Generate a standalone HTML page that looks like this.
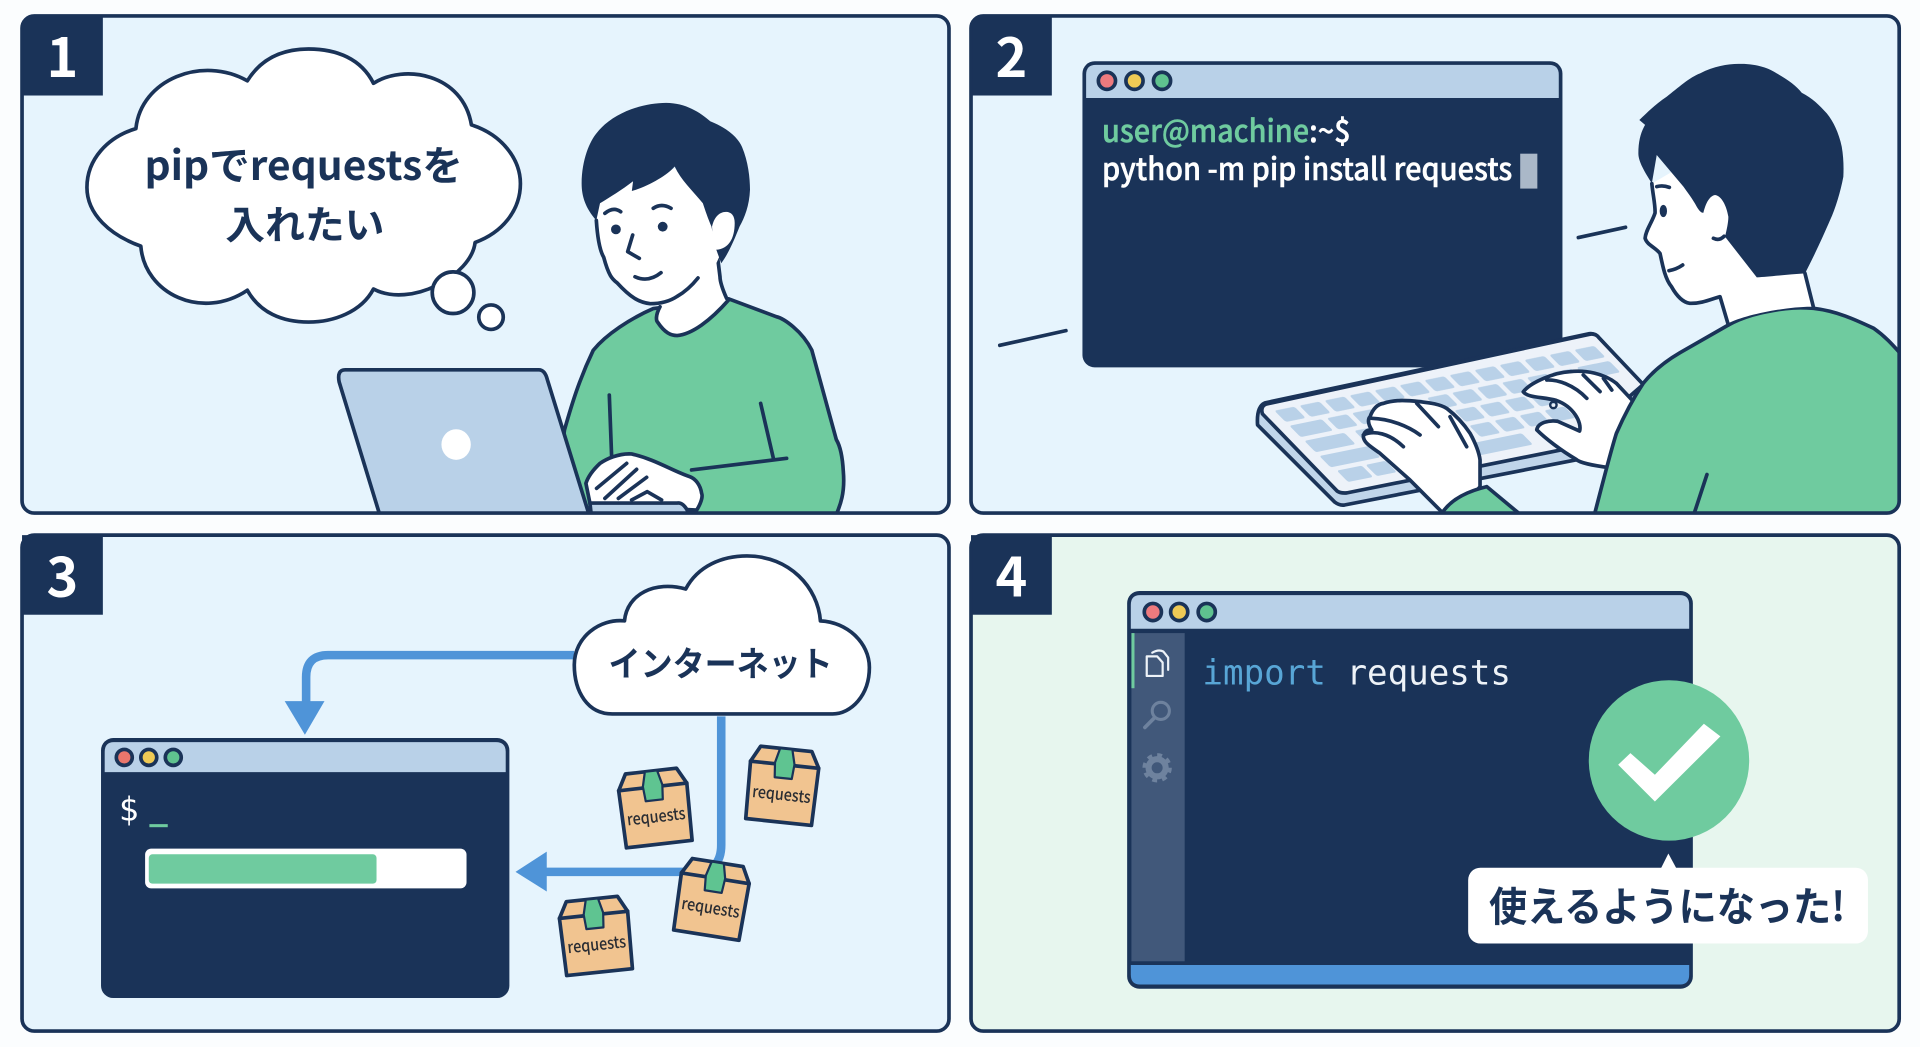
<!DOCTYPE html>
<html lang="ja"><head><meta charset="utf-8"><title>pip install requests</title>
<style>
html,body{margin:0;padding:0;background:#fbfdfe;width:1920px;height:1047px;overflow:hidden}
svg{display:block}
text{font-family:"Noto Sans CJK JP","Liberation Sans",sans-serif}
.m{font-family:"DejaVu Sans Mono","Liberation Mono",monospace}
.n{fill:#fff;font-size:44px;font-weight:700;text-anchor:middle}
.l{fill:none;stroke:#1a3358;stroke-width:3;stroke-linecap:round;stroke-linejoin:round}
.s{stroke:#1a3358;stroke-width:3;stroke-linejoin:round}
.t{fill:#1a3358;font-weight:700}
</style></head><body>
<svg width="1920" height="1047" viewBox="0 0 1568 855" preserveAspectRatio="none" xmlns="http://www.w3.org/2000/svg">
<defs>
<clipPath id="c1"><rect x="18" y="13" width="757" height="406" rx="10"/></clipPath>
<clipPath id="c2"><rect x="793" y="13" width="758" height="406" rx="10"/></clipPath>
<pattern id="keys" width="20" height="12" patternUnits="userSpaceOnUse"><rect x="2" y="1.500" width="16" height="9" rx="1.500" fill="#b9d1e8"/></pattern>
<pattern id="keysB" x="10" width="20" height="12" patternUnits="userSpaceOnUse"><rect x="2" y="1.500" width="16" height="9" rx="1.500" fill="#b9d1e8"/></pattern>
<g id="box">
<path d="M-21-30L21-30L28-17L27 30H-27L-28-17Z" fill="#f1c490" class="s"/>
<path d="M-28-17H-8M8-17H28" class="l"/>
<path d="M-5-30H5L8-18L7-6H-7L-8-18Z" fill="#5fc491" stroke="#1a3358" stroke-width="1.800" stroke-linejoin="round"/>
<text x="0" y="12" text-anchor="middle" font-size="13.500" font-weight="500" fill="#2a2d33" textLength="48" lengthAdjust="spacingAndGlyphs">requests</text>
</g>
</defs>

<!-- Panel 1 -->
<rect x="18" y="13" width="757" height="406" rx="10" fill="#e6f4fd"/>
<g clip-path="url(#c1)">
<rect x="18" y="13" width="66" height="65" fill="#1a3358"/>
<text x="51" y="63" class="n">1</text>
<path d="M202 66C215 45 235 40 252 40C275 40 295 48 305 68C330 52 378 60 385 102C410 110 425 130 425 150C425 172 410 190 388 198C385 225 335 252 305 236C295 255 272 263 252 263C230 263 212 255 202 237C165 262 118 240 115 201C90 192 71 175 71 153C71 130 88 112 111 105C115 65 165 45 202 66Z" fill="#fff" class="s"/>
<circle cx="370" cy="239" r="17" fill="#fff" class="s"/>
<circle cx="401" cy="259" r="10" fill="#fff" class="s"/>
<text x="118" y="147" font-size="33" class="t" textLength="260" lengthAdjust="spacingAndGlyphs">pipでrequestsを</text>
<text x="184" y="195" font-size="32" class="t" textLength="130" lengthAdjust="spacingAndGlyphs">入れたい</text>
<!-- person 1 -->
<path d="M533.500 252C515 260 495 273 484.500 286C473 310 467 330 461 351L450 430H678C688 412 690 400 688.700 385C688 372 686 364 683 359L663 286C655 270 640 260 634 258.600L595 244Z" fill="#6fcb9f" class="s"/>
<path d="M539 245V250.500C535 258 536 262 537 263C543 272 548 274 553 274C565 273 580 262 595 245C590 236 588 230 588 226L585 204L530 230Z" fill="#fff"/>
<path d="M539 250.500C535 258 536 262 537 263C543 272 548 274 553 274C565 273 580 262 595 245M593.400 243.700C590 236 588 230 588 226L585.300 204" class="l"/>
<path d="M487 180C488 195 490 205 493 210C497 225 500 228 504 231C515 243 522 247 531 248C540 248 547 246 553 242L585 215L600 182L590 130L490 150Z" fill="#fff"/>
<path d="M487 180C488 195 490 205 493 210C497 225 500 228 504 231C515 243 522 247 531 248C540 248 547 246 553 242C560 238 566 232 570 227" class="l"/>
<path d="M487 180C478 170 475 160 475 150C475 130 482 115 487 109C500 92 525 84 544 84C560 84 572 92 580 99C595 105 603 113 606 120C611 132 612.500 145 612.500 155C612 168 608 178 604 185C600 195 595 207 589 215L585 204L581 185C578 178 576 172 574 166C565 155 556 147 551 136C545 143 530 152 516 156L517 148C508 155 498 161 490 166Z" fill="#1a3358"/>
<path d="M585 204C595 203 600 195 600 182C600 176 597 173 593 173C587 173 583 178 581.500 185C582 195 583 200 585 204Z" fill="#fff"/>
<path d="M494 174.200Q500.900 168.500 506.900 172.900M533.500 170.100Q540.300 165.500 548 170.100" class="l" stroke-width="2.500"/>
<circle cx="503" cy="187.300" r="4" fill="#1a3358"/><circle cx="541.200" cy="185.100" r="4" fill="#1a3358"/>
<path d="M516.700 191.900L512.600 205.500L522.100 211M518.600 226Q529.500 231 539.800 222.700" class="l" stroke-width="2.500"/>
<path d="M497.600 322.600L499.500 372.900M621.200 329.400L631.600 374.300M642.400 374.300L564.800 383.800" class="l"/>
<path d="M282 302H440Q445 302 447 310L481 420H310L277 312Q275 302 282 302Z" fill="#b9d1e8" class="s"/>
<ellipse cx="372.500" cy="363" rx="12" ry="12.500" fill="#fff"/>
<path d="M478.500 394.700L482 412L569 416.500C573 410 574 405 573 402.900C572 396 568 391 563.500 389.300C550 385 535 375 515.800 370.700C505 370 495 375 490 378.400C484 384 480 390 478.500 394.700Z" fill="#fff" class="s"/>
<path d="M511.800 378.400L487.200 398.800M519.900 383.300L494 407M528.100 389.800L505 407M515.800 408.300L528.600 401.500L540.300 408.300" class="l" stroke-width="2.500"/>
<path d="M481.800 410.800H553Q558 410 562 418V422H483Z" fill="#b9d1e8" class="s"/>
</g>
<rect x="18" y="13" width="757" height="406" rx="10" class="l"/>

<!-- Panel 2 -->
<rect x="793" y="13" width="758" height="406" rx="10" fill="#e6f4fd"/>
<g clip-path="url(#c2)">
<rect x="793" y="13" width="66" height="65" fill="#1a3358"/>
<text x="826" y="63" class="n">2</text>
<rect x="884" y="50" width="392" height="250" rx="10" fill="#1a3358"/>
<path d="M887 80V61Q887 53 895 53H1265Q1273 53 1273 61V80Z" fill="#b9d1e8"/>
<circle cx="904" cy="66" r="7" fill="#ee7a7e" class="s"/><circle cx="926.500" cy="66" r="7" fill="#efca55" class="s"/><circle cx="949" cy="66" r="7" fill="#5fc28f" class="s"/>
<text x="900" y="116" font-size="25" font-weight="500" textLength="203" lengthAdjust="spacingAndGlyphs" stroke-width=".4"><tspan fill="#6fcb9f" stroke="#6fcb9f">user@machine</tspan><tspan fill="#fff" stroke="#fff">:~$</tspan></text>
<text x="900" y="147" font-size="25" font-weight="500" fill="#fff" stroke="#fff" stroke-width=".4" textLength="335" lengthAdjust="spacingAndGlyphs">python -m pip install requests</text>
<rect x="1241.500" y="125.500" width="14" height="28.500" fill="#aab8c8"/>
<path d="M1289 194L1327.500 185.600M816.500 282L870.500 270" class="l"/>
<!-- keyboard -->
<path d="M1033 329L1298 272.500Q1303 272 1306 276L1345 318L1290 375L1098 412.400Q1094 413 1090 410L1027 347Q1026 332 1033 329Z" fill="#c0d5ea" class="s"/>
<path d="M1034 330L1298 273Q1303 272 1306 276L1342 314L1282 366L1100 402.500Q1095 403 1092 401L1031 338Q1029 332 1034 330Z" fill="#edf2f9" class="s" stroke-width="2"/>
<g transform="matrix(1.02 -.207 1.02 1.03 1037.200 334.200)">
<rect width="260" height="12" fill="url(#keys)"/>
<rect x="2" y="13.500" width="26" height="9" rx="1.500" fill="#b9d1e8"/>
<rect x="30" y="12" width="220" height="12" fill="url(#keysB)"/>
<rect x="232" y="13.500" width="26" height="9" rx="1.500" fill="#b9d1e8"/>
<rect x="2" y="25.500" width="32" height="9" rx="1.500" fill="#b9d1e8"/>
<rect x="40" y="24" width="200" height="12" fill="url(#keys)"/>
<rect x="2" y="37.500" width="40" height="9" rx="1.500" fill="#b9d1e8"/>
<rect x="60" y="36" width="160" height="12" fill="url(#keys)"/>
<rect x="4" y="49.500" width="20" height="9" rx="1.500" fill="#b9d1e8"/>
<rect x="27" y="49.500" width="16" height="9" rx="1.500" fill="#b9d1e8"/>
<rect x="96" y="49.500" width="56" height="9" rx="1.500" fill="#b9d1e8"/>
</g>
<!-- left hand -->
<path d="M1177.400 418L1151.500 392L1127 370.200C1120 365 1114 362 1113.400 356.600C1114 352 1117 351 1120.300 351.100C1117 346 1117 342 1118.900 340.300C1121 334 1125 330 1129.800 329.400C1140 326 1150 327 1159.700 328C1168 329 1176 330 1181.500 333.500C1190 340 1196 347 1200.600 353.900C1205 362 1208 370 1208.700 375.600V397.400L1190 420Z" fill="#fff" class="s"/>
<path d="M1120.300 341.600C1135 342 1150 348 1159.700 355.200M1113.400 355.200C1122 351 1135 354 1146.100 364.800M1157 329.400L1174.700 348.400M1184.200 340.300L1197.800 364.800" class="l" stroke-width="2.500"/>
<path d="M1177 420C1183 410 1195 402 1214.200 397.400L1241.400 420Z" fill="#6fcb9f" class="s"/>
<!-- right hand -->
<path d="M1244 320C1250 312 1270 304 1282 303.500C1295 302 1310 305 1320 313L1335 329L1315 382C1300 380 1290 378 1287 375C1275 368 1262 358 1255 351C1256 345 1265 343 1272 344L1290 352C1292 345 1285 332 1271 327C1260 324 1248 325 1244 320Z" fill="#fff" class="s"/>
<path d="M1263.200 310.300C1272 310 1285 314 1295.900 325.300M1293 306.200L1306.700 319.800M1309.500 309L1316.300 318.500" class="l" stroke-width="2.500"/>
<circle cx="1268.600" cy="330.700" r="2.600" fill="none" stroke="#1a3358" stroke-width="2"/>
<!-- person 2 -->
<path d="M1301 425L1302.700 418C1310 390 1315 370 1320 354C1327 338 1334 325 1342 313C1350 303 1360 295 1372 288L1411.500 265.400C1425 258 1440 255 1443 254.500C1460 251 1470 251 1481 251.800C1500 254 1515 261 1530 268C1540 275 1546 282 1555 292V425Z" fill="#6fcb9f" class="s"/>
<path d="M1394 387.500L1384 418" class="l"/>
<path d="M1349 150L1351.600 174L1343.500 194.600L1355.700 207L1365 234L1380 248L1404.700 242L1411.500 264C1425 257 1460 250 1481 250.500L1474 223L1400 120Z" fill="#fff"/>
<path d="M1349 150C1350 160 1352 168 1351.600 174C1349 182 1344 188 1343.500 194.600C1345 200 1352 202 1355.700 207C1358 218 1360 228 1365 234C1370 243 1375 247 1380 247.700C1390 248 1398 244 1404.700 242.300L1411.500 265.400M1474 223L1481 251" class="l"/>
<path d="M1338.800 98C1345 92 1352 85 1361.200 78.900C1370 72 1380 63 1388.400 59.900C1400 54 1412 52 1421 52.200C1435 52 1445 56 1451 59.900C1460 65 1467 70 1471.400 75.700C1480 80 1486 86 1491.800 92.500C1498 100 1502 110 1504.100 119.800C1505.500 128 1505.800 136 1505.400 144.300C1503 157 1499 170 1494.600 179.700C1488 195 1480 212 1474.100 223.200C1460 224 1445 226 1434.700 226.500L1408.800 193.300C1410 188 1411.500 182 1411.500 177C1410 168 1406 160 1400.600 159.200C1396 160 1393 166 1391.100 173.700C1389 174 1387 171 1385.700 168.800C1382 162 1378 157 1374.800 152.400L1353 126.600L1349 149.700C1343 140 1338 132 1338 125.200C1338 115 1340 108 1343.500 102Z" fill="#1a3358"/>
<path d="M1399.300 194.600Q1404 197 1408 193" class="l" stroke-width="2.500"/>
<path d="M1353 152.400Q1358 151 1363.300 153M1363 221Q1369 220 1374.200 216.400" class="l" stroke-width="2.500"/>
<ellipse cx="1358.400" cy="172.300" rx="3" ry="5" fill="#1a3358"/>
</g>
<rect x="793" y="13" width="758" height="406" rx="10" class="l"/>

<!-- Panel 3 -->
<rect x="18" y="437" width="757" height="405" rx="10" fill="#e6f4fd"/>
<rect x="18" y="437" width="66" height="65" fill="#1a3358"/>
<text x="51" y="487" class="n">3</text>
<path d="M469 535H268Q250 535 250 553V575" fill="none" stroke="#4f94d8" stroke-width="7"/>
<path d="M232.500 572.600H265L249 600Z" fill="#4f94d8"/>
<path d="M589 585V690Q589 712 567 712H445" fill="none" stroke="#4f94d8" stroke-width="7"/>
<path d="M421 712L446.500 695.500V728Z" fill="#4f94d8"/>
<path d="M500 583C480 583 469 565 469 543C469 520 490 505 510 507C512 485 535 474 560 481C570 462 590 454 610 454C645 454 668 480 670 507C692 508 710 525 710 545C710 568 695 583 680 583Z" fill="#fff" class="s"/>
<text x="497" y="552" font-size="28" class="t" textLength="183" lengthAdjust="spacingAndGlyphs">インターネット</text>
<rect x="82.500" y="602.700" width="333.500" height="212.300" rx="10" fill="#1a3358"/>
<path d="M85.500 630.500V614Q85.500 606 93 606H405Q413 606 413 614V630.500Z" fill="#b9d1e8"/>
<circle cx="101.500" cy="618.500" r="6.500" fill="#e9766c" class="s"/><circle cx="121.500" cy="618.500" r="6.500" fill="#efca55" class="s"/><circle cx="141.500" cy="618.500" r="6.500" fill="#5fc28f" class="s"/>
<text x="97" y="670" font-size="27" fill="#fff" class="m">$</text>
<rect x="122" y="673" width="15" height="2.500" fill="#6fcb9f"/>
<rect x="118.500" y="693" width="262.500" height="32.500" rx="5" fill="#fff"/>
<rect x="121.500" y="697.600" width="186" height="24" rx="3" fill="#6fcb9f"/>
<use href="#box" transform="translate(535 659.500) rotate(-6.500)"/>
<use href="#box" transform="translate(639 641.400) rotate(6)"/>
<use href="#box" transform="translate(581.500 734) rotate(9)"/>
<use href="#box" transform="translate(486.500 764) rotate(-6)"/>
<rect x="18" y="437" width="757" height="405" rx="10" class="l"/>

<!-- Panel 4 -->
<rect x="793" y="437" width="758" height="405" rx="10" fill="#e7f6ee"/>
<rect x="793" y="437" width="66" height="65" fill="#1a3358"/>
<text x="826" y="487" class="n">4</text>
<rect x="920.500" y="482.600" width="462" height="324.800" rx="10" fill="#1a3358"/>
<path d="M923.500 513.400V494Q923.500 486 931 486H1372Q1379.500 486 1379.500 494V513.400Z" fill="#b9d1e8"/>
<path d="M923.500 788H1379.500V796Q1379.500 804 1372 804H931Q923.500 804 923.500 796Z" fill="#4f94d8"/>
<circle cx="941.500" cy="499.800" r="7" fill="#ee7a7e" class="s"/><circle cx="963" cy="499.800" r="7" fill="#efca55" class="s"/><circle cx="985.500" cy="499.800" r="7" fill="#5fc28f" class="s"/>
<rect x="924" y="517" width="43.500" height="268" fill="#41587a"/>
<rect x="924" y="517" width="2.500" height="45" fill="#6fcb9f"/>
<g fill="none" stroke="#eef3f8" stroke-width="1.800" stroke-linejoin="round" stroke-linecap="round"><path d="M936.500 536H945L949.500 541V552H936.500Z"/><path d="M941 533Q946 530 950 532L954 537V547"/></g>
<g fill="none" stroke="#6e829e" stroke-width="2.500"><circle cx="948" cy="580.500" r="7"/><path d="M943 586L935 594" stroke-linecap="round" stroke-width="3"/></g>
<g><circle cx="945" cy="627" r="7" fill="none" stroke="#6e829e" stroke-width="5"/><circle cx="945" cy="627" r="10.500" fill="none" stroke="#6e829e" stroke-width="3" stroke-dasharray="4 4.200"/></g>
<text x="982" y="559" font-size="28" class="m" textLength="252" lengthAdjust="spacingAndGlyphs"><tspan fill="#58a6d6">import</tspan><tspan fill="#eef3f8"> requests</tspan></text>
<circle cx="1363" cy="621" r="65.500" fill="#6fcb9f"/>
<polygon points="1321.500,624.500 1331.500,615 1351.500,632.700 1391.500,591 1405,601.300 1351.500,654.500" fill="#fff"/>
<path d="M1356.500 709L1362.500 697L1369 709Z" fill="#fff"/>
<rect x="1199" y="708.600" width="326.500" height="61.900" rx="10" fill="#fff"/>
<text x="1216" y="752" font-size="33" class="t" textLength="291" lengthAdjust="spacingAndGlyphs">使えるようになった!</text>
<rect x="793" y="437" width="758" height="405" rx="10" class="l"/>
</svg>
</body></html>
